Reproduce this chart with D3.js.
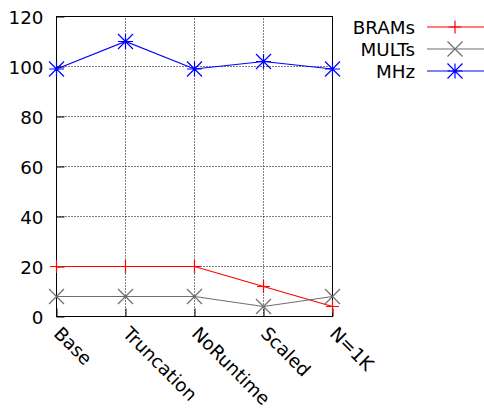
<!DOCTYPE html>
<html>
<head>
<meta charset="utf-8">
<script src="https://cdn.jsdelivr.net/npm/d3@7"></script>
<style>
  body { margin: 0; background: #fff; }
  text { font-family: "DejaVu Sans", sans-serif; font-size: 18.3px; fill: #000; }
</style>
</head>
<body>
<svg id="chart"></svg>
<script>
const categories = ["Base", "Truncation", "NoRuntime", "Scaled", "N=1K"];
const brams = [20, 20, 20, 12, 4];
const mults = [8, 8, 8, 4, 8];
const mhz = [99, 110, 99, 102, 99];
const yTicks = [0, 20, 40, 60, 80, 100, 120];

const width = 484;
const height = 408;
const margin = { left: 56.5, right: 151.5, top: 16.5, bottom: 91.5 };

const svg = d3.select("#chart").attr("width", width).attr("height", height);

const x = d3.scalePoint().domain(categories).range([margin.left, width - margin.right]);
const y = d3.scaleLinear().domain([0, 120]).range([height - margin.bottom, margin.top]);

const series = [
  { name: "BRAMs", values: brams, color: "#ff0000", marker: "plus" },
  { name: "MULTs", values: mults, color: "#6e6e6e", marker: "cross" },
  { name: "MHz", values: mhz, color: "#0000ff", marker: "star" },
];

// grid
const grid = svg.append("g").attr("stroke", "#000").attr("stroke-dasharray", "1,2").attr("stroke-width", 1);
grid.selectAll("line.v")
  .data(categories.slice(1, -1))
  .join("line")
  .attr("x1", (d) => x(d)).attr("x2", (d) => x(d))
  .attr("y1", y(0)).attr("y2", y(120));
grid.selectAll("line.h")
  .data(yTicks.slice(1, -1))
  .join("line")
  .attr("x1", x.range()[0]).attr("x2", x.range()[1])
  .attr("y1", (d) => y(d)).attr("y2", (d) => y(d));

// axes (ticks inside, like gnuplot)
const yAxis = d3.axisLeft(y).tickValues(yTicks).tickSize(-8).tickPadding(13);
svg.append("g")
  .attr("transform", `translate(${margin.left},0)`)
  .call(yAxis)
  .call((g) => g.select(".domain").remove())
  .call((g) => g.selectAll("text").attr("font-size", null).attr("font-family", null).attr("dy", "0.36em"));

const xAxis = d3.axisBottom(x).tickSize(-8).tickFormat("");
svg.append("g")
  .attr("transform", `translate(0,${y(0)})`)
  .call(xAxis)
  .call((g) => g.select(".domain").remove());

svg.append("g")
  .selectAll("text")
  .data(categories)
  .join("text")
  .attr("transform", (d) => `translate(${x(d) + 1},${y(0) + 13.5}) rotate(45)`)
  .attr("text-anchor", "start")
  .attr("dy", "0.36em")
  .text((d) => d);

// border
svg.append("rect")
  .attr("x", margin.left).attr("y", margin.top)
  .attr("width", x.range()[1] - x.range()[0])
  .attr("height", y(0) - y(120))
  .attr("fill", "none").attr("stroke", "#000").attr("stroke-width", 1);

const markerPath = (type, s) => {
  if (type === "plus") return `M${-s},0H${s}M0,${-s}V${s}`;
  if (type === "cross") return `M${-s},${-s}L${s},${s}M${-s},${s}L${s},${-s}`;
  return `M${-s},0H${s}M0,${-s}V${s}M${-s},${-s}L${s},${s}M${-s},${s}L${s},${-s}`;
};

const line = d3.line().x((d, i) => x(categories[i])).y((d) => y(d));

series.forEach((s) => {
  const g = svg.append("g");
  g.append("path")
    .datum(s.values)
    .attr("d", line)
    .attr("fill", "none")
    .attr("stroke", s.color)
    .attr("stroke-width", 1.2);
  g.selectAll("path.m")
    .data(s.values)
    .join("path")
    .attr("class", "m")
    .attr("transform", (d, i) => `translate(${x(categories[i])},${y(d)})`)
    .attr("d", markerPath(s.marker, s.marker === "plus" ? 6.5 : 7.5))
    .attr("fill", "none")
    .attr("stroke", s.color)
    .attr("stroke-width", 1.2);
});

// legend
const legend = svg.append("g");
series.forEach((s, i) => {
  const ly = 27 + i * 22;
  legend.append("text")
    .attr("x", 415).attr("y", ly).attr("dy", "0.36em")
    .attr("text-anchor", "end")
    .text(s.name);
  legend.append("line")
    .attr("x1", 427).attr("x2", 484).attr("y1", ly).attr("y2", ly)
    .attr("stroke", s.color).attr("stroke-width", 1.2);
  legend.append("path")
    .attr("transform", `translate(455,${ly})`)
    .attr("d", markerPath(s.marker, s.marker === "plus" ? 6.5 : 7.5))
    .attr("fill", "none")
    .attr("stroke", s.color)
    .attr("stroke-width", 1.2);
});
</script>
</body>
</html>
